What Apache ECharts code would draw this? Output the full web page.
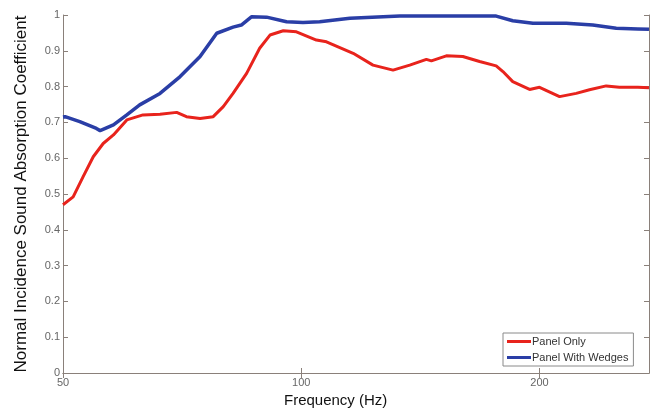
<!DOCTYPE html>
<html>
<head>
<meta charset="utf-8">
<script src="https://cdn.jsdelivr.net/npm/echarts@6/dist/echarts.min.js"></script>
<style>
  html, body { margin: 0; padding: 0; background: #fff; }
  #chart { width: 650px; height: 414px; }
</style>
</head>
<body>
<div id="chart"></div>
<script>
// frequency (Hz) / absorption coefficient
const freqPanel = [50, 51.5, 53.0, 54.6, 56.2, 57.9, 60.2, 63.1, 66.3, 69.6, 71.6, 74.5, 77.4, 79.7, 82.0, 85.3, 88.6, 91.3, 94.9, 98.6, 104.5, 107.6, 116.3, 123.2, 130.6, 137.1, 143.9, 146, 152.5, 160.0, 168.0, 176.3, 179.8, 185.0, 194.3, 200, 212.0, 222.5, 231.3, 242.8, 252.3, 266.2, 275];
const valPanel = [0.47, 0.492, 0.548, 0.604, 0.641, 0.665, 0.707, 0.721, 0.723, 0.728, 0.716, 0.711, 0.716, 0.744, 0.781, 0.837, 0.907, 0.944, 0.956, 0.953, 0.930, 0.925, 0.893, 0.860, 0.846, 0.860, 0.876, 0.872, 0.886, 0.884, 0.870, 0.858, 0.842, 0.814, 0.792, 0.798, 0.772, 0.781, 0.791, 0.802, 0.798, 0.798, 0.797];

const freqWedges = [50, 50.3, 52.5, 55.1, 55.7, 57.9, 60.2, 62.5, 66.3, 70.3, 74.5, 78.2, 82.0, 84.0, 86.5, 90.4, 95.8, 100.5, 105.5, 115.2, 133.2, 154.0, 176.3, 185.0, 196.2, 216.2, 233.5, 250.0, 266.2, 275];
const valWedges = [0.715, 0.716, 0.702, 0.683, 0.677, 0.693, 0.721, 0.749, 0.781, 0.828, 0.884, 0.949, 0.966, 0.972, 0.995, 0.994, 0.981, 0.979, 0.981, 0.991, 0.997, 0.997, 0.997, 0.984, 0.977, 0.977, 0.972, 0.963, 0.961, 0.960];

const xTicks = [50, 100, 200];
const seriesNames = ["Panel Only", "Panel With Wedges"];

const axisColor = "#8a807a";
const zip = (xs, ys) => xs.map((x, i) => [x, ys[i]]);

const myChart = echarts.init(document.getElementById("chart"));

const option = {
  animation: false,
  textStyle: { fontFamily: "Liberation Sans, Arial, sans-serif" },
  grid: { left: 63, right: 1, top: 15, bottom: 41 },
  title: {
    text: "Frequency (Hz)",
    left: 279,
    top: 388,
    textStyle: { fontSize: 15, fontWeight: "normal", color: "#111" },
  },
  legend: {
    orient: "vertical",
    left: 503,
    top: 333,
    padding: [3, 5, 3, 4],
    itemGap: 5,
    itemWidth: 24,
    itemHeight: 3,
    icon: "rect",
    backgroundColor: "#fff",
    borderColor: "#8a8a8a",
    borderWidth: 1,
    borderRadius: 0,
    textStyle: { fontSize: 11, color: "#333", padding: [0, 0, 0, -4] },
    data: seriesNames,
  },
  xAxis: [
    {
      type: "log",
      min: 50,
      max: 275,
      axisLine: { lineStyle: { color: axisColor } },
      axisTick: { inside: true, length: 5, customValues: xTicks, lineStyle: { color: axisColor } },
      axisLabel: { customValues: xTicks, fontSize: 11, color: "#666", margin: 4 },
      splitLine: { show: false },
      minorTick: { show: false },
    },
    {
      type: "log",
      position: "top",
      min: 50,
      max: 275,
      axisLine: { lineStyle: { color: axisColor } },
      axisTick: { inside: true, length: 5, customValues: xTicks, lineStyle: { color: axisColor } },
      axisLabel: { show: false },
      splitLine: { show: false },
    },
  ],
  yAxis: [
    {
      type: "value",
      min: 0,
      max: 1,
      interval: 0.1,
      name: "Normal Incidence Sound Absorption Coefficient",
      nameLocation: "middle",
      nameGap: 33,
      nameTextStyle: { fontSize: 17, color: "#111" },
      axisLine: { show: true, lineStyle: { color: axisColor } },
      axisTick: { show: true, inside: true, length: 5, lineStyle: { color: axisColor } },
      axisLabel: { fontSize: 11, color: "#666", margin: 3 },
      splitLine: { show: false },
    },
    {
      type: "value",
      position: "right",
      min: 0,
      max: 1,
      interval: 0.1,
      axisLine: { show: true, lineStyle: { color: axisColor } },
      axisTick: { show: true, inside: true, length: 5, lineStyle: { color: axisColor } },
      axisLabel: { show: false },
      splitLine: { show: false },
    },
  ],
  series: [
    {
      name: seriesNames[0],
      type: "line",
      data: zip(freqPanel, valPanel),
      showSymbol: false,
      lineStyle: { width: 3, color: "#e8231c" },
      itemStyle: { color: "#e8231c" },
    },
    {
      name: seriesNames[1],
      type: "line",
      data: zip(freqWedges, valWedges),
      showSymbol: false,
      lineStyle: { width: 3.5, color: "#2a3ea6" },
      itemStyle: { color: "#2a3ea6" },
    },
  ],
};

myChart.setOption(option);
</script>
</body>
</html>
